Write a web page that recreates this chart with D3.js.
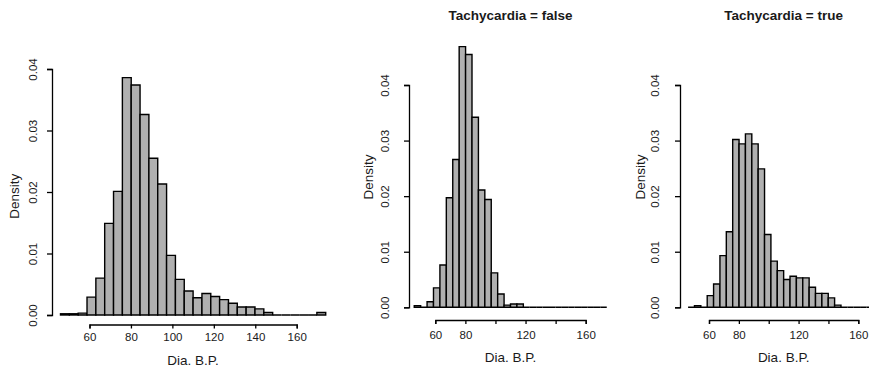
<!DOCTYPE html>
<html>
<head>
<meta charset="utf-8">
<script src="https://cdn.jsdelivr.net/npm/d3@7"></script>
<style>
  body { margin: 0; background: #fff; }
  text { font-family: "Liberation Sans", Arial, Helvetica, sans-serif; fill: #1a1a1a; }
</style>
</head>
<body>
<svg id="chart" width="869" height="369"></svg>
<script>
// histogram bin edges (30 bins over 46..174)
const breaks = [46, 50.27, 54.53, 58.8, 63.07, 67.33, 71.6, 75.87, 80.13, 84.4,
  88.67, 92.93, 97.2, 101.47, 105.73, 110, 114.27, 118.53, 122.8, 127.07,
  131.33, 135.6, 139.87, 144.13, 148.4, 152.67, 156.93, 161.2, 165.47, 169.73, 174];

// densities
const densityAll = [0.0002, 0.0002, 0.0003, 0.0029, 0.006, 0.0149, 0.0201, 0.0386, 0.0374, 0.0326,
  0.0255, 0.0213, 0.0097, 0.0058, 0.0039, 0.0028, 0.0035, 0.003, 0.0025, 0.0019,
  0.0013, 0.0013, 0.001, 0.0004, 0, 0, 0, 0, 0, 0.0004];
const densityFalse = [0.0003, 0, 0.001, 0.0035, 0.0076, 0.0197, 0.0266, 0.0469, 0.0455, 0.0342,
  0.0211, 0.0194, 0.0062, 0.0024, 0.0004, 0.0006, 0.0006, 0, 0, 0,
  0, 0, 0, 0, 0, 0, 0, 0, 0, 0];
const densityTrue = [0, 0.0003, 0, 0.0021, 0.0042, 0.0093, 0.0136, 0.0302, 0.0294, 0.0312,
  0.0294, 0.0249, 0.0131, 0.0083, 0.0066, 0.005, 0.0056, 0.0053, 0.0053, 0.0036,
  0.0025, 0.0025, 0.0017, 0.0004, 0, 0, 0, 0, 0, 0];

const titles = ["", "Tachycardia = false", "Tachycardia = true"];
const xTicks = [60, 80, 100, 120, 140, 160];
const xLabelsMain = [60, 80, 100, 120, 140, 160];
const xLabelsSub = [60, 80, 120, 160];
const yTicks = [0, 0.01, 0.02, 0.03, 0.04];

const svg = d3.select("#chart");

// pixel frame of each panel
const layout = [
  { x60: 89.5, x160: 296.7, y0: 315, y04: 69, yAxisX: 52, xAxisY: 324.5,
    yLabX: 33, yTitleX: 14, xLabY: 340.7, xTitleY: 364.5, ymax: 0.0386, labels: xLabelsMain },
  { x60: 435.3, x160: 585.7, y0: 307.3, y04: 85, yAxisX: 409, xAxisY: 320,
    yLabX: 385, yTitleX: 368, xLabY: 338.5, xTitleY: 361.5, ymax: 0.0469, labels: xLabelsSub },
  { x60: 709, x160: 858.3, y0: 307.3, y04: 85, yAxisX: 680, xAxisY: 320,
    yLabX: 655, yTitleX: 640, xLabY: 338.5, xTitleY: 361.5, ymax: 0.0469, labels: xLabelsSub }
];

const series = [densityAll, densityFalse, densityTrue];

series.forEach((values, p) => {
  const L = layout[p];
  const x = d3.scaleLinear().domain([60, 160]).range([L.x60, L.x160]);
  const y = d3.scaleLinear().domain([0, 0.04]).range([L.y0, L.y04]);
  const g = svg.append("g");

  // bars as closed paths so that empty bins still show as a line on the base
  const outline = d3.line();
  g.selectAll("path.bar")
    .data(values)
    .enter()
    .append("path")
    .attr("class", "bar")
    .attr("d", (d, i) => outline([
      [x(breaks[i]), y(0)], [x(breaks[i]), y(d)],
      [x(breaks[i + 1]), y(d)], [x(breaks[i + 1]), y(0)]
    ]) + "Z")
    .attr("fill", "#b0b0b0")
    .attr("stroke", "#000")
    .attr("stroke-width", 1.4);

  // x axis
  const xAxis = g.append("g")
    .attr("transform", `translate(0,${L.xAxisY})`)
    .call(d3.axisBottom(x).tickValues(xTicks).tickSizeOuter(0).tickSize(4)
      .tickFormat((d) => (L.labels.includes(d) ? d : "")));
  xAxis.select(".domain").attr("stroke", "#000").attr("stroke-width", 1.3);
  xAxis.selectAll(".tick line").attr("stroke", "#000").attr("stroke-width", 1.3);
  xAxis.selectAll(".tick text")
    .attr("y", L.xLabY - L.xAxisY).attr("dy", 0)
    .style("font-size", "11.5px");

  // y axis
  const yAxis = g.append("g")
    .attr("transform", `translate(${L.yAxisX},0)`)
    .call(d3.axisLeft(y).tickValues(yTicks).tickSizeOuter(0).tickSize(5)
      .tickFormat(d3.format(".2f")));
  yAxis.select(".domain").attr("stroke", "#000").attr("stroke-width", 1.3);
  yAxis.selectAll(".tick line").attr("stroke", "#000").attr("stroke-width", 1.3);
  yAxis.selectAll(".tick text")
    .attr("x", 0).attr("dy", 0)
    .attr("text-anchor", "middle")
    .attr("transform", `translate(${L.yLabX - L.yAxisX + 4},0) rotate(-90)`)
    .style("font-size", "11.5px");
  g.selectAll(".domain").attr("fill", "none");

  // axis titles
  const xMid = (x(breaks[0]) + x(breaks[breaks.length - 1])) / 2;
  g.append("text")
    .attr("x", xMid)
    .attr("y", L.xTitleY)
    .attr("text-anchor", "middle")
    .style("font-size", "13.5px")
    .text("Dia. B.P.");

  const yMid = (y(0) + y(L.ymax)) / 2;
  g.append("text")
    .attr("transform", `translate(${L.yTitleX + 5},${yMid}) rotate(-90)`)
    .attr("text-anchor", "middle")
    .style("font-size", "13.5px")
    .text("Density");

  // panel title
  if (titles[p]) {
    g.append("text")
      .attr("x", xMid)
      .attr("y", 20)
      .attr("text-anchor", "middle")
      .style("font-size", "13.5px")
      .style("font-weight", "bold")
      .text(titles[p]);
  }
});
</script>
</body>
</html>
